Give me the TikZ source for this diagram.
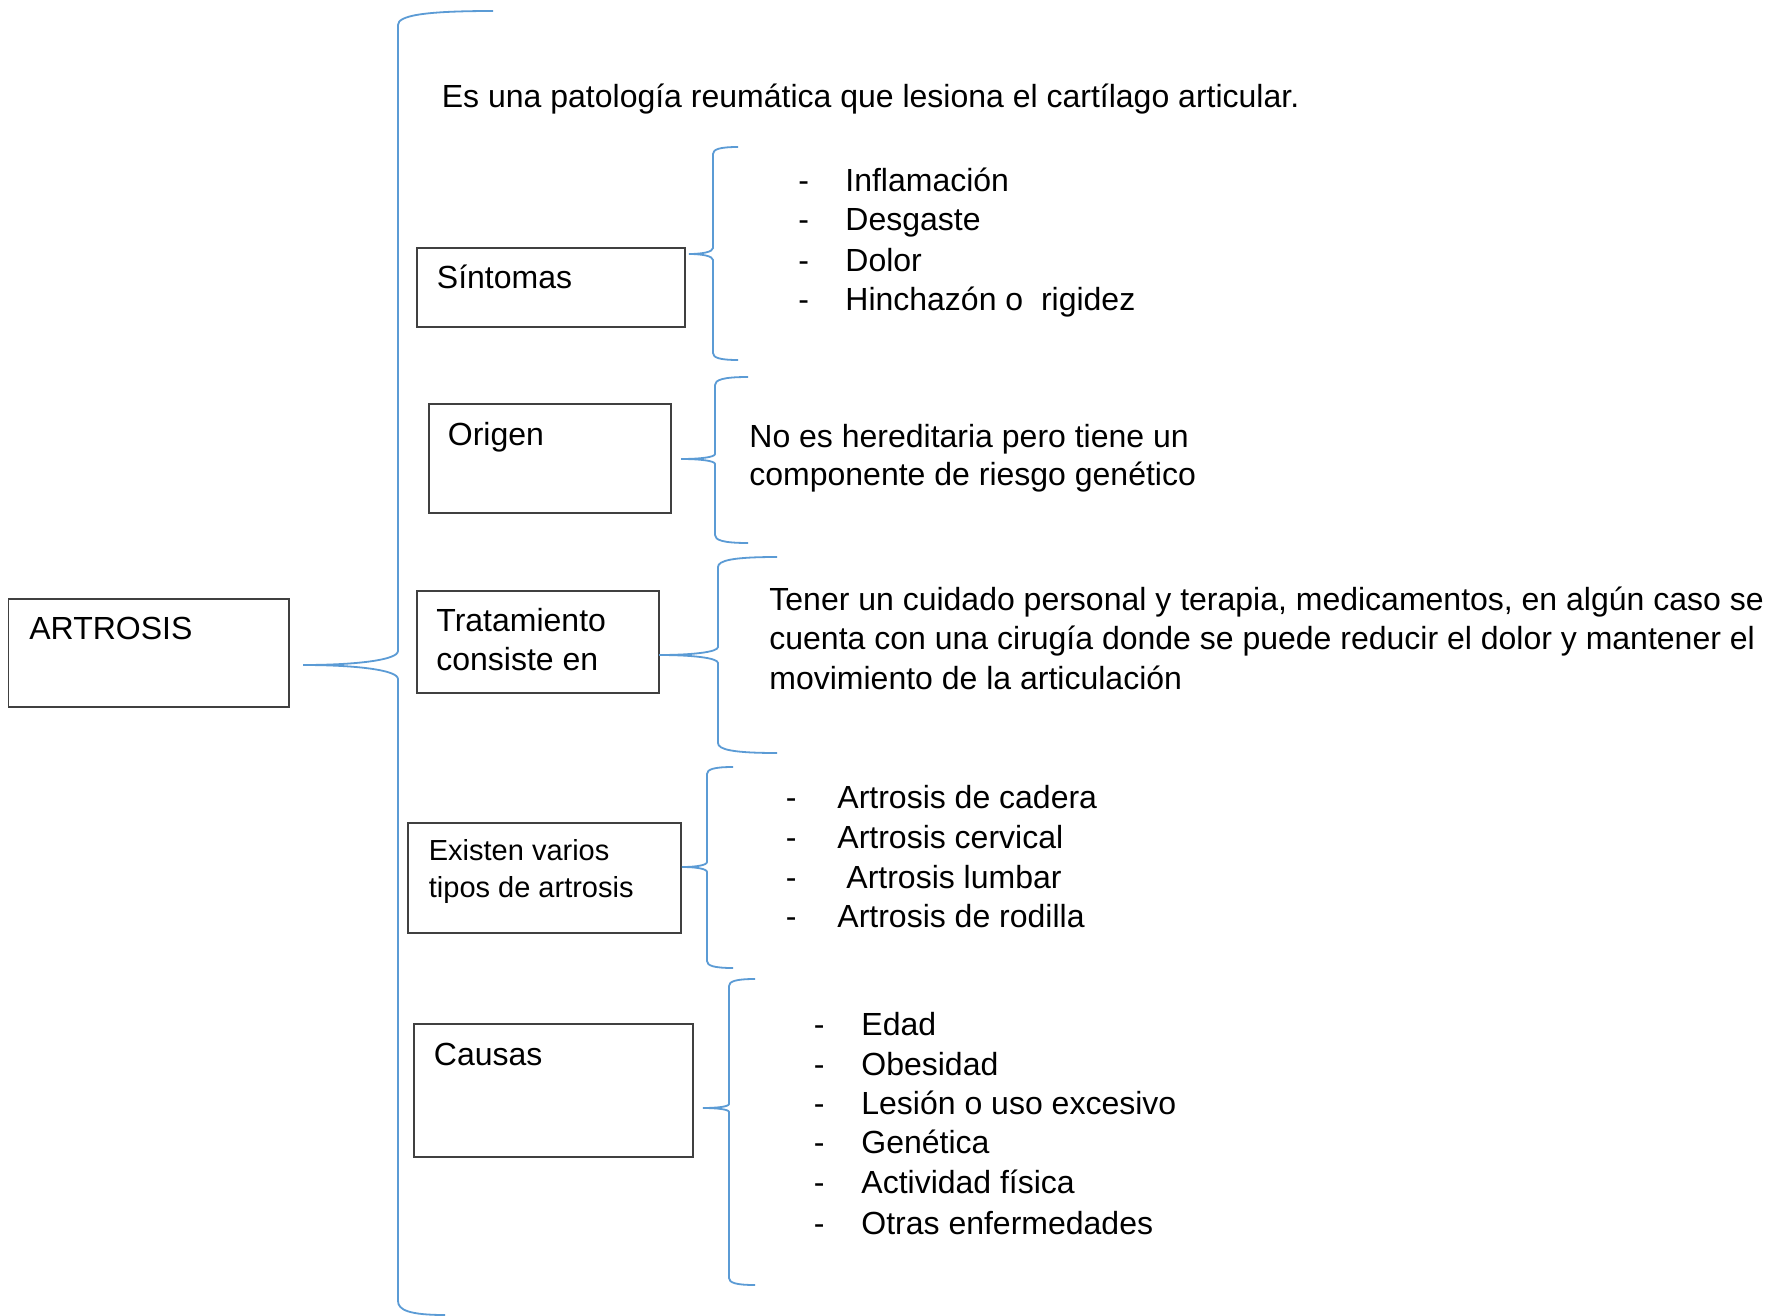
\documentclass[tikz,border=0pt]{standalone}
\usepackage{fontspec}
\setmainfont{Liberation Sans}
\usetikzlibrary{fit}
\definecolor{bracecol}{RGB}{91,155,213}
\definecolor{boxcol}{RGB}{64,64,64}
\tikzset{
  bracestyle/.style={draw=bracecol, line width=0.9pt},
  boxstyle/.style={draw=boxcol, line width=0.75pt, rectangle, inner sep=0pt},
  txt/.style={anchor=base west, inner sep=0pt, font=\fontsize{16}{19.8}\selectfont},
  smalltxt/.style={anchor=base west, inner sep=0pt, font=\fontsize{14.5}{18}\selectfont},
}
% #1 tip x, #2 tip y, #3 vertical x, #4 top y, #5 bottom y, #6 top end x, #7 tip radius, #8 arm radius, #9 bottom end x
\newcommand{\drawbrace}[9]{%
  \draw[bracestyle] (#6,#4) .. controls ({#3+0.25*(#6-#3)},#4) and (#3,{#4+0.35*#8}) .. (#3,{#4+#8})
    -- (#3,{#2-#7}) .. controls (#3,{#2-0.35*#7}) and ({#3-0.45*(#3-#1)},#2) .. (#1,#2)
    .. controls ({#3-0.45*(#3-#1)},#2) and (#3,{#2+0.35*#7}) .. (#3,{#2+#7})
    -- (#3,{#5-#8}) .. controls (#3,{#5-0.35*#8}) and ({#3+0.25*(#9-#3)},#5) .. (#9,#5);
}
\begin{document}
\begin{tikzpicture}[x=0.5pt,y=-0.5pt]
\useasboundingbox[fill=white] (0,0) rectangle (1777,1316);

% boxes
\node[boxstyle, fit={(8.3,599) (289,707)}] (bA) {};
\node[boxstyle, fit={(417,248) (685,327)}] (bS) {};
\node[boxstyle, fit={(429,404) (671,513)}] (bO) {};
\node[boxstyle, fit={(417,591) (659,693)}] (bT) {};
\node[boxstyle, fit={(408,823) (681,933)}] (bE) {};
\node[boxstyle, fit={(414,1024) (693,1157)}] (bC) {};

% box texts
\node[txt] (tA) at (29,639) {ARTROSIS};
\node[txt] (tS) at (436.5,288) {Síntomas};
\node[txt] (tO) at (447.5,445) {Origen};
\node[txt] (tT1) at (436,631) {Tratamiento};
\node[txt] (tT2) at (436,670) {consiste en};
\node[smalltxt] (tE1) at (428.5,860) {Existen varios};
\node[smalltxt] (tE2) at (428.5,897) {tipos de artrosis};
\node[txt] (tC) at (433.5,1065) {Causas};

% definition
\node[txt] (def) at (441.5,108) {Es una patología reumática que lesiona el cartílago articular.};

% brace tips
\coordinate (kA) at (303,665);
\coordinate (kS) at (689,254);
\coordinate (kO) at (681,459);
\coordinate (kT) at (659,655);
\coordinate (kE) at (682,867);
\coordinate (kC) at (703,1108);

% braces
\drawbrace{303}{665}{398}{11}{1315}{493}{14}{14}{445}
\drawbrace{689}{254}{713}{147}{360}{738}{6}{7}{738}
\drawbrace{681}{459}{715}{377}{543}{748}{5}{8}{748}
\drawbrace{659}{655}{718}{557}{753}{777}{8}{10}{777}
\drawbrace{682}{867}{707}{767}{968}{733}{5}{7}{733}
\drawbrace{703}{1108}{729}{979}{1285}{755}{4}{7}{755}

% Sintomas list
\node[txt] (dS1) at (798,192) {-};
\node[txt] (iS1) at (845,192) {Inflamación};
\node[txt] (dS2) at (798,231) {-};
\node[txt] (iS2) at (845,231) {Desgaste};
\node[txt] (dS3) at (798,271) {-};
\node[txt] (iS3) at (845,271) {Dolor};
\node[txt] (dS4) at (798,310) {-};
\node[txt] (iS4) at (845,310) {Hinchazón o~~rigidez};

% Origen text
\node[txt] (oT1) at (749,447) {No es hereditaria pero tiene un};
\node[txt] (oT2) at (749,485) {componente de riesgo genético};

% Tratamiento text
\node[txt] (rT1) at (769,610) {Tener un cuidado personal y terapia, medicamentos, en algún caso se};
\node[txt] (rT2) at (769,649.7) {cuenta con una cirugía donde se puede reducir el dolor y mantener el};
\node[txt] (rT3) at (769,689.4) {movimiento de la articulación};

% Tipos list
\node[txt] (dE1) at (785.5,808.5) {-};
\node[txt] (iE1) at (837,808.5) {Artrosis de cadera};
\node[txt] (dE2) at (785.5,848.5) {-};
\node[txt] (iE2) at (837,848.5) {Artrosis cervical};
\node[txt] (dE3) at (785.5,888.5) {-};
\node[txt] (iE3) at (846,888.5) {Artrosis lumbar};
\node[txt] (dE4) at (785.5,927.5) {-};
\node[txt] (iE4) at (837,927.5) {Artrosis de rodilla};

% Causas list
\node[txt] (dC1) at (813.5,1035) {-};
\node[txt] (iC1) at (861,1035) {Edad};
\node[txt] (dC2) at (813.5,1075) {-};
\node[txt] (iC2) at (861,1075) {Obesidad};
\node[txt] (dC3) at (813.5,1114) {-};
\node[txt] (iC3) at (861,1114) {Lesión o uso excesivo};
\node[txt] (dC4) at (813.5,1153) {-};
\node[txt] (iC4) at (861,1153) {Genética};
\node[txt] (dC5) at (813.5,1193) {-};
\node[txt] (iC5) at (861,1193) {Actividad física};
\node[txt] (dC6) at (813.5,1234) {-};
\node[txt] (iC6) at (861,1234) {Otras enfermedades};
\end{tikzpicture}
\end{document}
